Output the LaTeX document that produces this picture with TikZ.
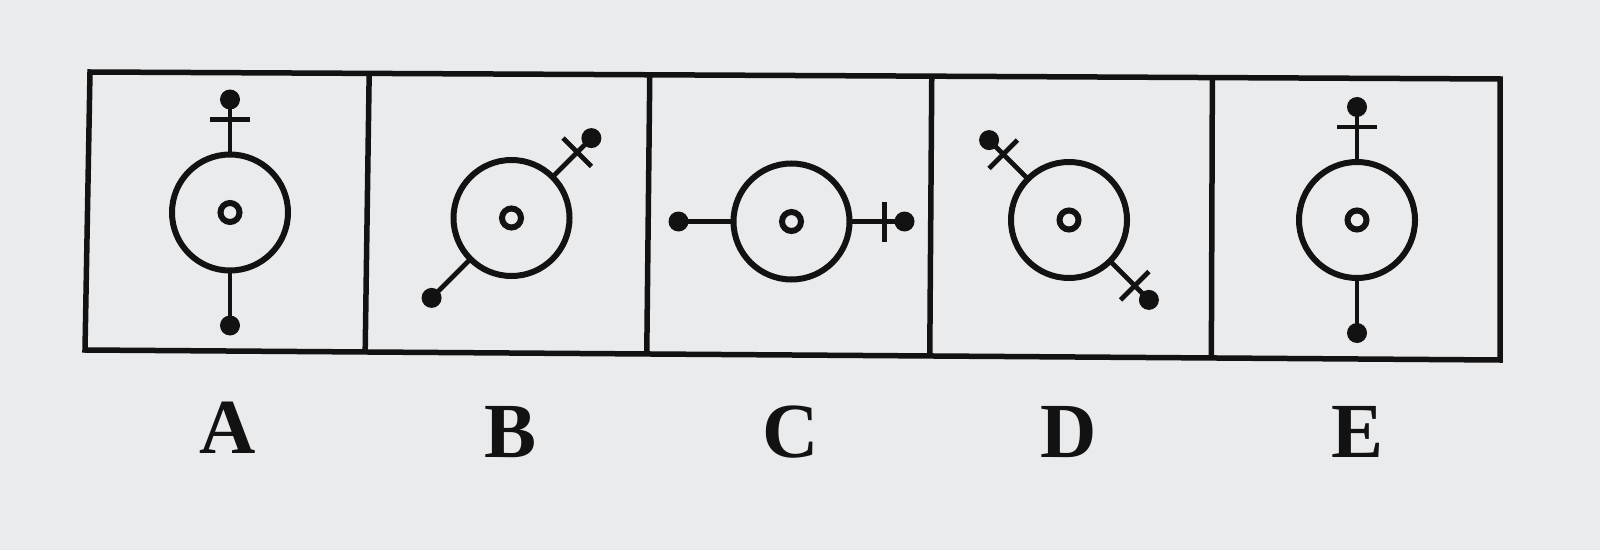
\documentclass[tikz,border=0pt]{standalone}
\usepackage{fontspec}
\setmainfont{Liberation Serif}
\usetikzlibrary{calc}
\definecolor{paper}{RGB}{234,235,237}
\definecolor{ink}{RGB}{18,18,18}
\tikzset{
  frameline/.style={line width=5.5pt, draw=ink, line join=miter},
  bigc/.style={line width=6pt, draw=ink},
  smallc/.style={line width=6pt, draw=ink},
  arm/.style={line width=4.8pt, draw=ink},
  lab/.style={font=\fontsize{78}{82}\selectfont\bfseries, text=ink, inner sep=0pt},
}
\newcommand\plainarm[1]{\draw[arm] (#1:58) -- (#1:113); \fill[ink] (#1:113) circle (10);}
\newcommand\crossarm[1]{\plainarm{#1}\begin{scope}[rotate=#1]\draw[arm] (93,-20) -- (93,20);\end{scope}}
\newcommand\core{\draw[bigc] (0,0) circle (58); \draw[smallc] (0,0) circle (9.5);}
\begin{document}
\begin{tikzpicture}[x=1pt,y=1pt]
  \fill[paper] (0,0) rectangle (1600,550);
  \useasboundingbox (0,0) rectangle (1600,550);
  % frame
  \coordinate (TL) at (90,478);
  \coordinate (TR) at (1500,471);
  \coordinate (BR) at (1500,190);
  \coordinate (BL) at (85,200);
  \draw[frameline] (TL) -- (TR) -- (BR) -- (BL) -- cycle;
  \foreach \t in {0.198,0.397,0.597,0.796}
    \draw[frameline] ($(TL)!\t!(TR)$) -- ($(BL)!\t!(BR)$);
  % A
  \begin{scope}[shift={(230,337.5)}]
    \core \crossarm{90} \plainarm{270}
  \end{scope}
  % B
  \begin{scope}[shift={(511.5,332)}]
    \core \crossarm{45} \plainarm{-135}
  \end{scope}
  % C
  \begin{scope}[shift={(791.5,328.5)}]
    \core \plainarm{180} \crossarm{0}
  \end{scope}
  % D
  \begin{scope}[shift={(1069,330)}]
    \core \crossarm{135} \crossarm{-45}
  \end{scope}
  % E
  \begin{scope}[shift={(1357,330)}]
    \core \crossarm{90} \plainarm{270}
  \end{scope}
  % labels
  \node[lab] (lA) at (228,122) {A};
  \node[lab] (lB) at (511,118) {B};
  \node[lab] (lC) at (791,118) {C};
  \node[lab] (lD) at (1069,118) {D};
  \node[lab] (lE) at (1357,118) {E};
\end{tikzpicture}
\end{document}
